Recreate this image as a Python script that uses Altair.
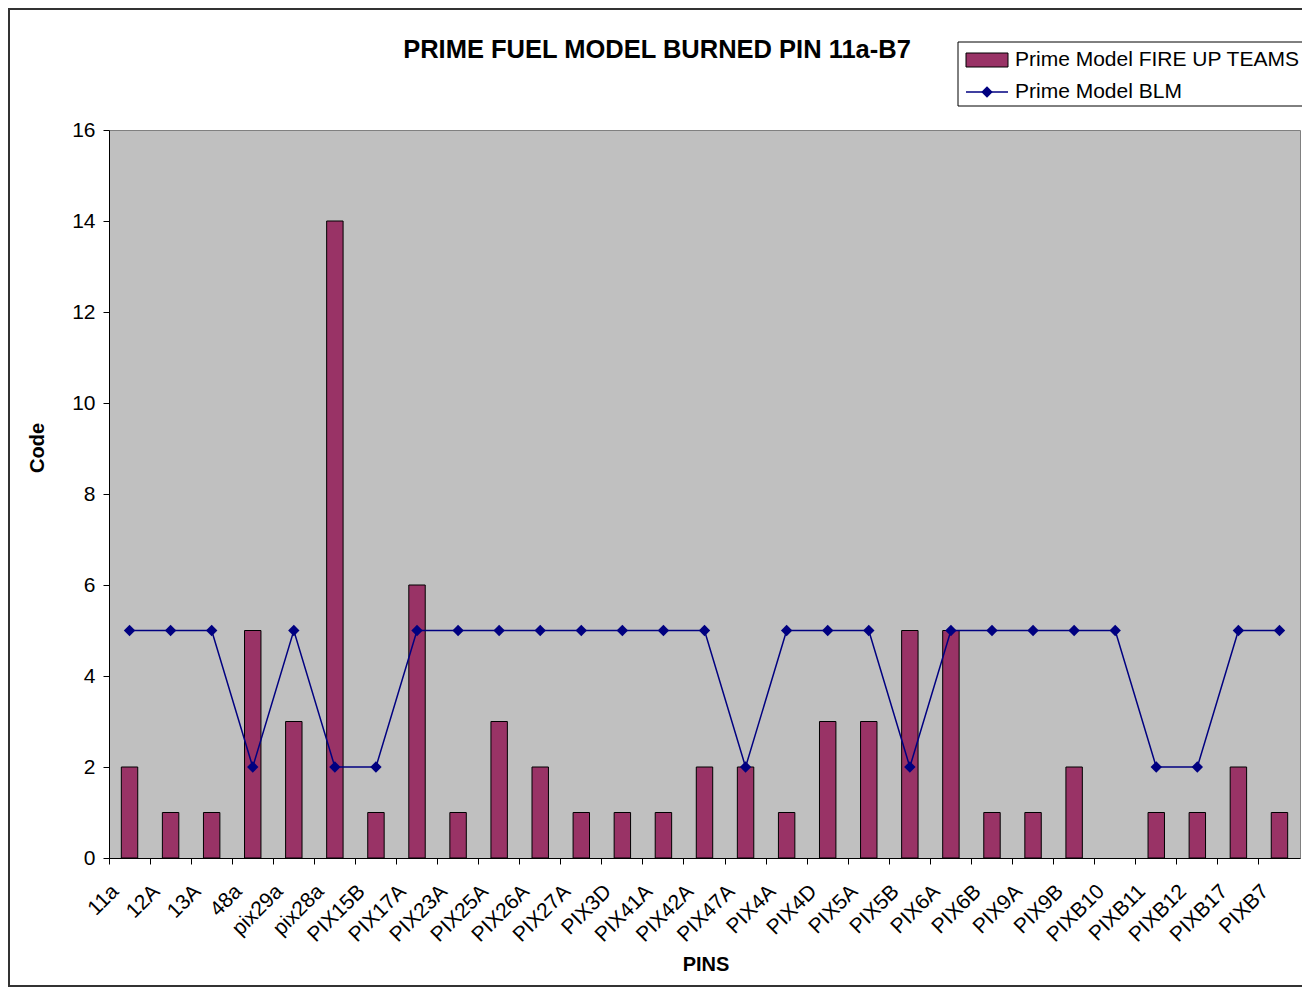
import altair as alt
import pandas as pd

pins = ["11a", "12A", "13A", "48a", "pix29a", "pix28a", "PIX15B", "PIX17A", "PIX23A",
        "PIX25A", "PIX26A", "PIX27A", "PIX3D", "PIX41A", "PIX42A", "PIX47A", "PIX4A",
        "PIX4D", "PIX5A", "PIX5B", "PIX6A", "PIX6B", "PIX9A", "PIX9B", "PIXB10",
        "PIXB11", "PIXB12", "PIXB17", "PIXB7"]
fire_up = [2, 1, 1, 5, 3, 14, 1, 6, 1, 3, 2, 1, 1, 1, 2, 2, 1, 3, 3, 5, 5, 1, 1, 2, None,
           1, 1, 2, 1]
blm = [5, 5, 5, 2, 5, 2, 2, 5, 5, 5, 5, 5, 5, 5, 5, 2, 5, 5, 5, 2, 5, 5, 5, 5, 5, 2, 2, 5, 5]
y_ticks = [0, 2, 4, 6, 8, 10, 12, 14, 16]

title_text = "PRIME FUEL MODEL BURNED PIN 11a-B7"
series_names = ["Prime Model FIRE UP TEAMS", "Prime Model BLM"]

df = pd.DataFrame({"pin": pins, "fire": fire_up, "blm": blm})
one = pd.DataFrame({"k": [0]})

W, H = 1191, 728
FONT = "Liberation Sans"
BAR = "#993366"
NAVY = "#000080"

xscale = alt.Scale(domain=pins, paddingInner=0, paddingOuter=0)
xaxis = alt.Axis(title=None, bandPosition=0, labelAngle=-45, labelAlign="right",
                 labelBaseline="middle", labelOffset=-14, labelPadding=24, tickSize=6,
                 labelFont=FONT, labelFontSize=21, labelColor="black",
                 domainColor="black", tickColor="black", labelOverlap=False)
yscale = alt.Scale(domain=[0, 16], nice=False)
yaxis = alt.Axis(title=None, values=y_ticks, tickSize=6, labelPadding=8, labelFont=FONT,
                 labelFontSize=21, labelColor="black", domainColor="black",
                 tickColor="black", grid=False)

x = alt.X("pin:N", sort=pins, scale=xscale, axis=xaxis)

base = alt.Chart(df)

bars = base.mark_bar(width=alt.RelativeBandSize(0.4), color=BAR, stroke="black",
                     strokeWidth=1).encode(
    x=x, y=alt.Y("fire:Q", scale=yscale, axis=yaxis))

line = base.mark_line(color=NAVY, strokeWidth=1.5).encode(
    x=x, y=alt.Y("blm:Q", scale=yscale, axis=yaxis))
pts = base.mark_point(shape="diamond", filled=True, size=130, color=NAVY, opacity=1).encode(
    x=x, y=alt.Y("blm:Q", scale=yscale, axis=yaxis))

o = alt.Chart(one)

border = o.mark_rect(fillOpacity=0, stroke="#333333", strokeWidth=2).encode(
    x=alt.value(-100), x2=alt.value(W + 60), y=alt.value(-121), y2=alt.value(H + 128))

title = o.mark_text(font=FONT, fontSize=25.5, fontWeight="bold", color="black",
                    align="center", baseline="middle").encode(
    x=alt.value(548), y=alt.value(-80), text=alt.value(title_text))

xtitle = o.mark_text(font=FONT, fontSize=20, fontWeight="bold", color="black",
                     align="center", baseline="middle").encode(
    x=alt.value(597), y=alt.value(H + 107), text=alt.value("PINS"))

ytitle = o.mark_text(font=FONT, fontSize=20, fontWeight="bold", color="black",
                     align="center", baseline="middle", angle=270).encode(
    x=alt.value(-71), y=alt.value(318), text=alt.value("Code"))

leg_box = o.mark_rect(fill="white", stroke="black", strokeWidth=1).encode(
    x=alt.value(849), x2=alt.value(1200), y=alt.value(-88), y2=alt.value(-24))
leg_sw = o.mark_rect(fill=BAR, stroke="black", strokeWidth=1).encode(
    x=alt.value(857), x2=alt.value(899), y=alt.value(-77), y2=alt.value(-63))
leg_line = o.mark_rule(color=NAVY, strokeWidth=1.5).encode(
    x=alt.value(857), x2=alt.value(899), y=alt.value(-38))
leg_pt = o.mark_point(shape="diamond", filled=True, size=130, color=NAVY, opacity=1).encode(
    x=alt.value(878), y=alt.value(-38))
leg_t1 = o.mark_text(font=FONT, fontSize=21, color="black", align="left",
                     baseline="middle").encode(
    x=alt.value(906), y=alt.value(-70), text=alt.value(series_names[0]))
leg_t2 = o.mark_text(font=FONT, fontSize=21, color="black", align="left",
                     baseline="middle").encode(
    x=alt.value(906), y=alt.value(-38), text=alt.value(series_names[1]))

chart = alt.layer(bars, line, pts, border, title, xtitle, ytitle,
                  leg_box, leg_sw, leg_line, leg_pt, leg_t1, leg_t2).properties(
    width=W, height=H,
    background="white",
    autosize=alt.AutoSizeParams(type="none"),
    padding={"left": 101, "top": 122, "right": 2, "bottom": 130},
).configure_view(fill="#C0C0C0", stroke="#808080", strokeWidth=1)

chart.save("out.html", embed_options={"renderer": "svg", "actions": False})
